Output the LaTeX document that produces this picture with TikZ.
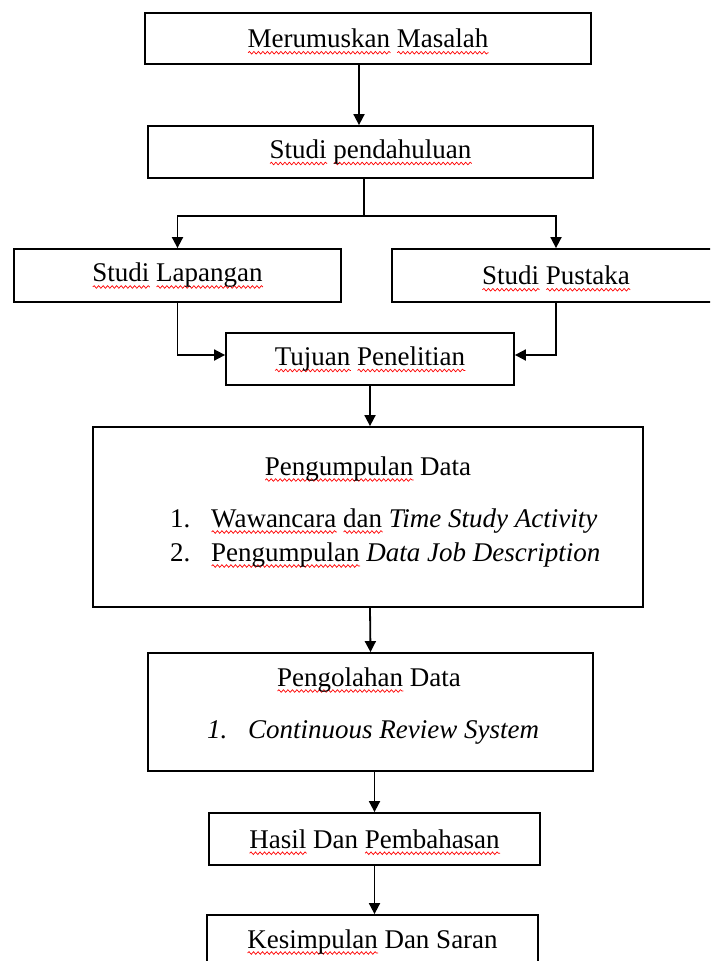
\documentclass[tikz,border=0pt]{standalone}
\usepackage{fontspec}
\setmainfont{Liberation Serif}
\usetikzlibrary{arrows.meta,decorations.pathmorphing,calc}
\newcommand\fs{\fontsize{27}{32}\selectfont}
\newsavebox\sqbox
\newcommand\sqw[1]{\leavevmode\sbox\sqbox{#1}\rlap{\raisebox{-5pt}[0pt][0pt]{\tikz[baseline=0pt]\draw[red, line width=0.7pt, decorate, decoration={snake, amplitude=1.3pt, segment length=4.5pt}] (0pt,0pt) -- (\the\wd\sqbox,0pt);}}\usebox\sqbox}
\begin{document}
\begin{tikzpicture}[x=1pt,y=-1pt,
  box/.style={draw, line width=1.8pt, inner sep=0pt, font=\fs, align=center},
  lbl/.style={inner sep=0pt, font=\fs},
  conn/.style={line width=1.8pt},
  arr/.style={line width=1.8pt, -{Triangle[length=11pt,width=11pt]}}]
\useasboundingbox (0,0) rectangle (710,961);
\clip (0,0) rectangle (710,961);
\fill[white] (0,0) rectangle (710,961);
% boxes
\node[box, minimum width=446pt, minimum height=51pt] (b1) at (368,38.5) {\sqw{Merumuskan} \sqw{Masalah}};
\node[box, minimum width=445pt, minimum height=52pt] (b2) at (370.5,152) {\sqw{Studi} \sqw{pendahuluan}};
\node[box, minimum width=327pt, minimum height=53pt] (lap) at (177.5,275.5) {\sqw{Studi} \sqw{Lapangan}};
\node[box, minimum width=328pt, minimum height=53pt] (pus) at (556,275.5) {\sqw{Studi} \sqw{Pustaka}};
\node[box, minimum width=288pt, minimum height=52pt] (tuj) at (370,359) {\sqw{Tujuan} \sqw{Penelitian}};
\node[box, minimum width=550pt, minimum height=180pt] (b5) at (368,517) {};
\node[lbl, anchor=base] (t5) at (368,475) {\sqw{Pengumpulan} Data};
\node[lbl, anchor=base west] (i51) at (170,527) {\makebox[41pt][l]{1.}\sqw{Wawancara} \sqw{dan} \textit{Time Study Activity}};
\node[lbl, anchor=base west] (i52) at (170,561) {\makebox[41pt][l]{2.}\sqw{Pengumpulan} \textit{Data Job Description}};
\node[box, minimum width=445pt, minimum height=118pt] (b6) at (370.5,712) {};
\node[lbl, anchor=base] (t6) at (369,686) {\sqw{Pengolahan} Data};
\node[lbl, anchor=base west] (i61) at (207,738) {\textit{\makebox[41pt][l]{1.}Continuous Review System}};
\node[box, minimum width=331pt, minimum height=52pt] (b7) at (374.5,839) {\sqw{Hasil} Dan \sqw{Pembahasan}};
\node[box, minimum width=331pt, minimum height=53pt] (b8) at (372.5,941.5) {\sqw{Kesimpulan} Dan Saran};
% connectors
\draw[arr] ([xshift=-9pt]b1.south) -- ([xshift=-11.5pt]b2.north);
\coordinate (j) at (364,216);
\draw[conn] (b2.south -| j) -- (j);
\draw[arr] (j) -| (lap.north);
\draw[arr] (j) -| (pus.north);
\draw[arr] (lap.south) |- ([yshift=4pt]tuj.west);
\draw[arr] (pus.south) |- ([yshift=4pt]tuj.east);
\draw[arr] (tuj.south) -- (tuj.south |- b5.north);
\draw[arr] ([xshift=2pt]b5.south) -- (b6.north);
\draw[arr] (b7.north |- b6.south) -- (b7.north);
\draw[arr] (b7.south) -- (b7.south |- b8.north);
\end{tikzpicture}
\end{document}
